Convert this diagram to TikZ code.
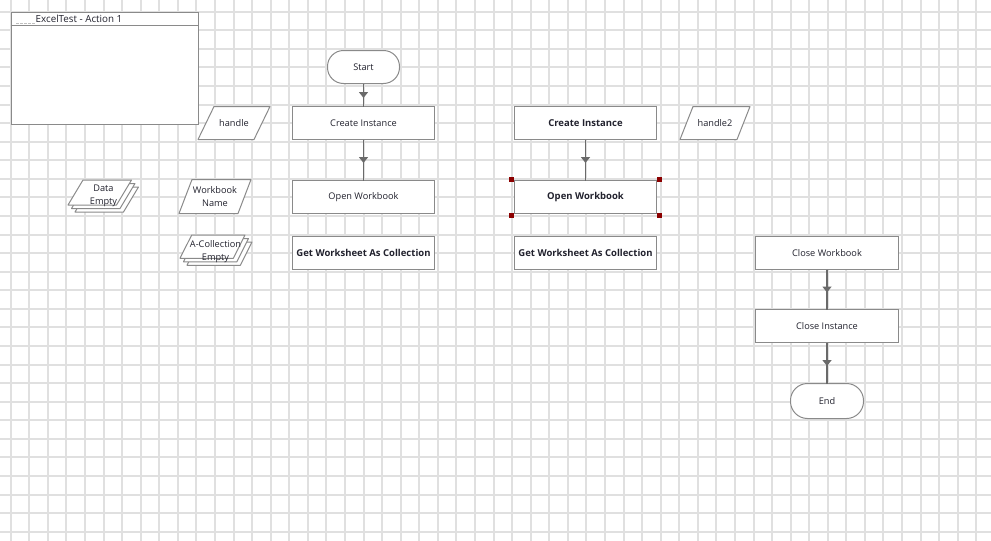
\documentclass[tikz,border=0pt]{standalone}
\usepackage{fontspec}
\setmainfont{Open Sans}
\usetikzlibrary{arrows.meta,decorations.markings,calc}
\definecolor{gridc}{HTML}{E0E0E0}
\definecolor{boxc}{HTML}{8A8A8A}
\definecolor{txtc}{HTML}{22222E}
\definecolor{arrc}{HTML}{6A6A6A}
\definecolor{selc}{HTML}{8B0000}
\begin{document}
\begin{tikzpicture}[x=1pt,y=-1pt,
 every node/.style={font=\fontsize{9.2}{13.5}\selectfont, text=txtc},
 action/.style={draw=boxc, fill=white, line width=1pt, minimum width=142pt, minimum height=33pt, inner sep=0pt, outer sep=0pt},
 bolda/.style={action, font=\fontsize{9.5}{13.5}\selectfont\bfseries},
 term/.style={draw=boxc, fill=white, line width=1pt, rounded corners=16pt, minimum width=72pt, minimum height=33pt, inner sep=0pt, outer sep=0pt},
 conn/.style={draw=arrc, line width=1.4pt, postaction={decorate}, decoration={markings, mark=at position 0.5 with {\pgftransformxshift{3pt}\arrow[arrc]{Triangle[width=9pt,length=6pt]}}}},
 para/.style={draw=boxc, fill=white, line width=1pt, line join=round},
 selh/.style={fill=selc, minimum size=5pt, inner sep=0pt, outer sep=0pt},
 lbl/.style={align=center, inner sep=0pt},
 gridln/.style={gridc, line width=1.6pt}
]
\useasboundingbox (0,0) rectangle (991,541);
\fill[white] (0,0) rectangle (991,541);
% grid
\foreach \i in {0,...,52} {
  \pgfmathsetmacro{\gx}{round(10.7+18.57*\i)}
  \draw[gridln] (\gx,0) -- (\gx,541);
}
\foreach \j in {0,...,28} {
  \pgfmathsetmacro{\gy}{round(11.7+18.57*\j)}
  \draw[gridln] (0,\gy) -- (991,\gy);
}

% title frame
\node[draw=boxc, fill=white, line width=1pt, minimum width=187pt, minimum height=112pt, inner sep=0pt, anchor=north west] (frame) at (10.5,11.5) {};
\draw[boxc, line width=1pt] ($(frame.north west)+(0,14)$) -- ($(frame.north east)+(0,14)$);
\draw[gray!50, line width=0.8pt, dash pattern=on 2.5pt off 1.5pt] (16,23) -- (35,23);
\node[anchor=west, inner sep=0pt, font=\fontsize{9.8}{12}\selectfont] (title) at (35.5,18.5) {ExcelTest - Action 1};

% column 1
\node[term] (start) at (363.5,67) {Start};
\node[action] (ci1) at (363.5,123) {Create Instance};
\node[action] (ow1) at (363.5,197) {Open Workbook};
\node[bolda] (gw1) at (363.5,253) {Get Worksheet As Collection};
\draw[conn] (start.south) -- (ci1.north);
\draw[conn] (ci1.south) -- (ow1.north);

% column 2
\node[bolda] (ci2) at (585.5,123) {Create Instance};
\node[bolda] (ow2) at (585.5,197) {Open Workbook};
\node[bolda] (gw2) at (585.5,253) {Get Worksheet As Collection};
\draw[conn] (ci2.south) -- (ow2.north);
\node[selh] (s1) at (511.7,179) {};
\node[selh] (s2) at (659.5,179) {};
\node[selh] (s3) at (511.7,215.5) {};
\node[selh] (s4) at (659.5,215.5) {};

% column 3
\node[action, minimum width=143pt] (cw) at (827,253) {Close Workbook};
\node[action, minimum width=143pt] (cli) at (827,326) {Close Instance};
\node[term, minimum width=73pt, minimum height=35pt, rounded corners=17pt] (end) at (827,401) {End};
\draw[conn] (cw.south) -- (cli.north);
\draw[conn] (cli.south) -- (end.north);

% variables
\draw[para] (214,106.5) -- (270,106.5) -- (254,139.5) -- (198,139.5) -- cycle;
\node[lbl] (handle) at (234,123) {handle};
\draw[para] (693,106.5) -- (750,106.5) -- (737,139.5) -- (680,139.5) -- cycle;
\node[lbl] (handle2) at (715,123) {handle2};
\draw[para] (192,179.5) -- (251,179.5) -- (238,213.5) -- (179,213.5) -- cycle;
\node[lbl] (wbname) at (215,196.5) {Workbook\\Name};

\foreach \k in {2,1,0} {
  \draw[para, shift={(3.5*\k,3.5*\k)}] (83,180) -- (131.5,180) -- (116.5,205) -- (68,205) -- cycle;
  \draw[para, shift={(3.5*\k,3.5*\k)}] (191.7,235) -- (245,235) -- (233.3,258.3) -- (180,258.3) -- cycle;
}
\node[lbl] (dataempty) at (103.5,196) {Data\\Empty};
\node[lbl] (colempty) at (215.5,251.5) {A-Collection\\Empty};
\end{tikzpicture}
\end{document}
